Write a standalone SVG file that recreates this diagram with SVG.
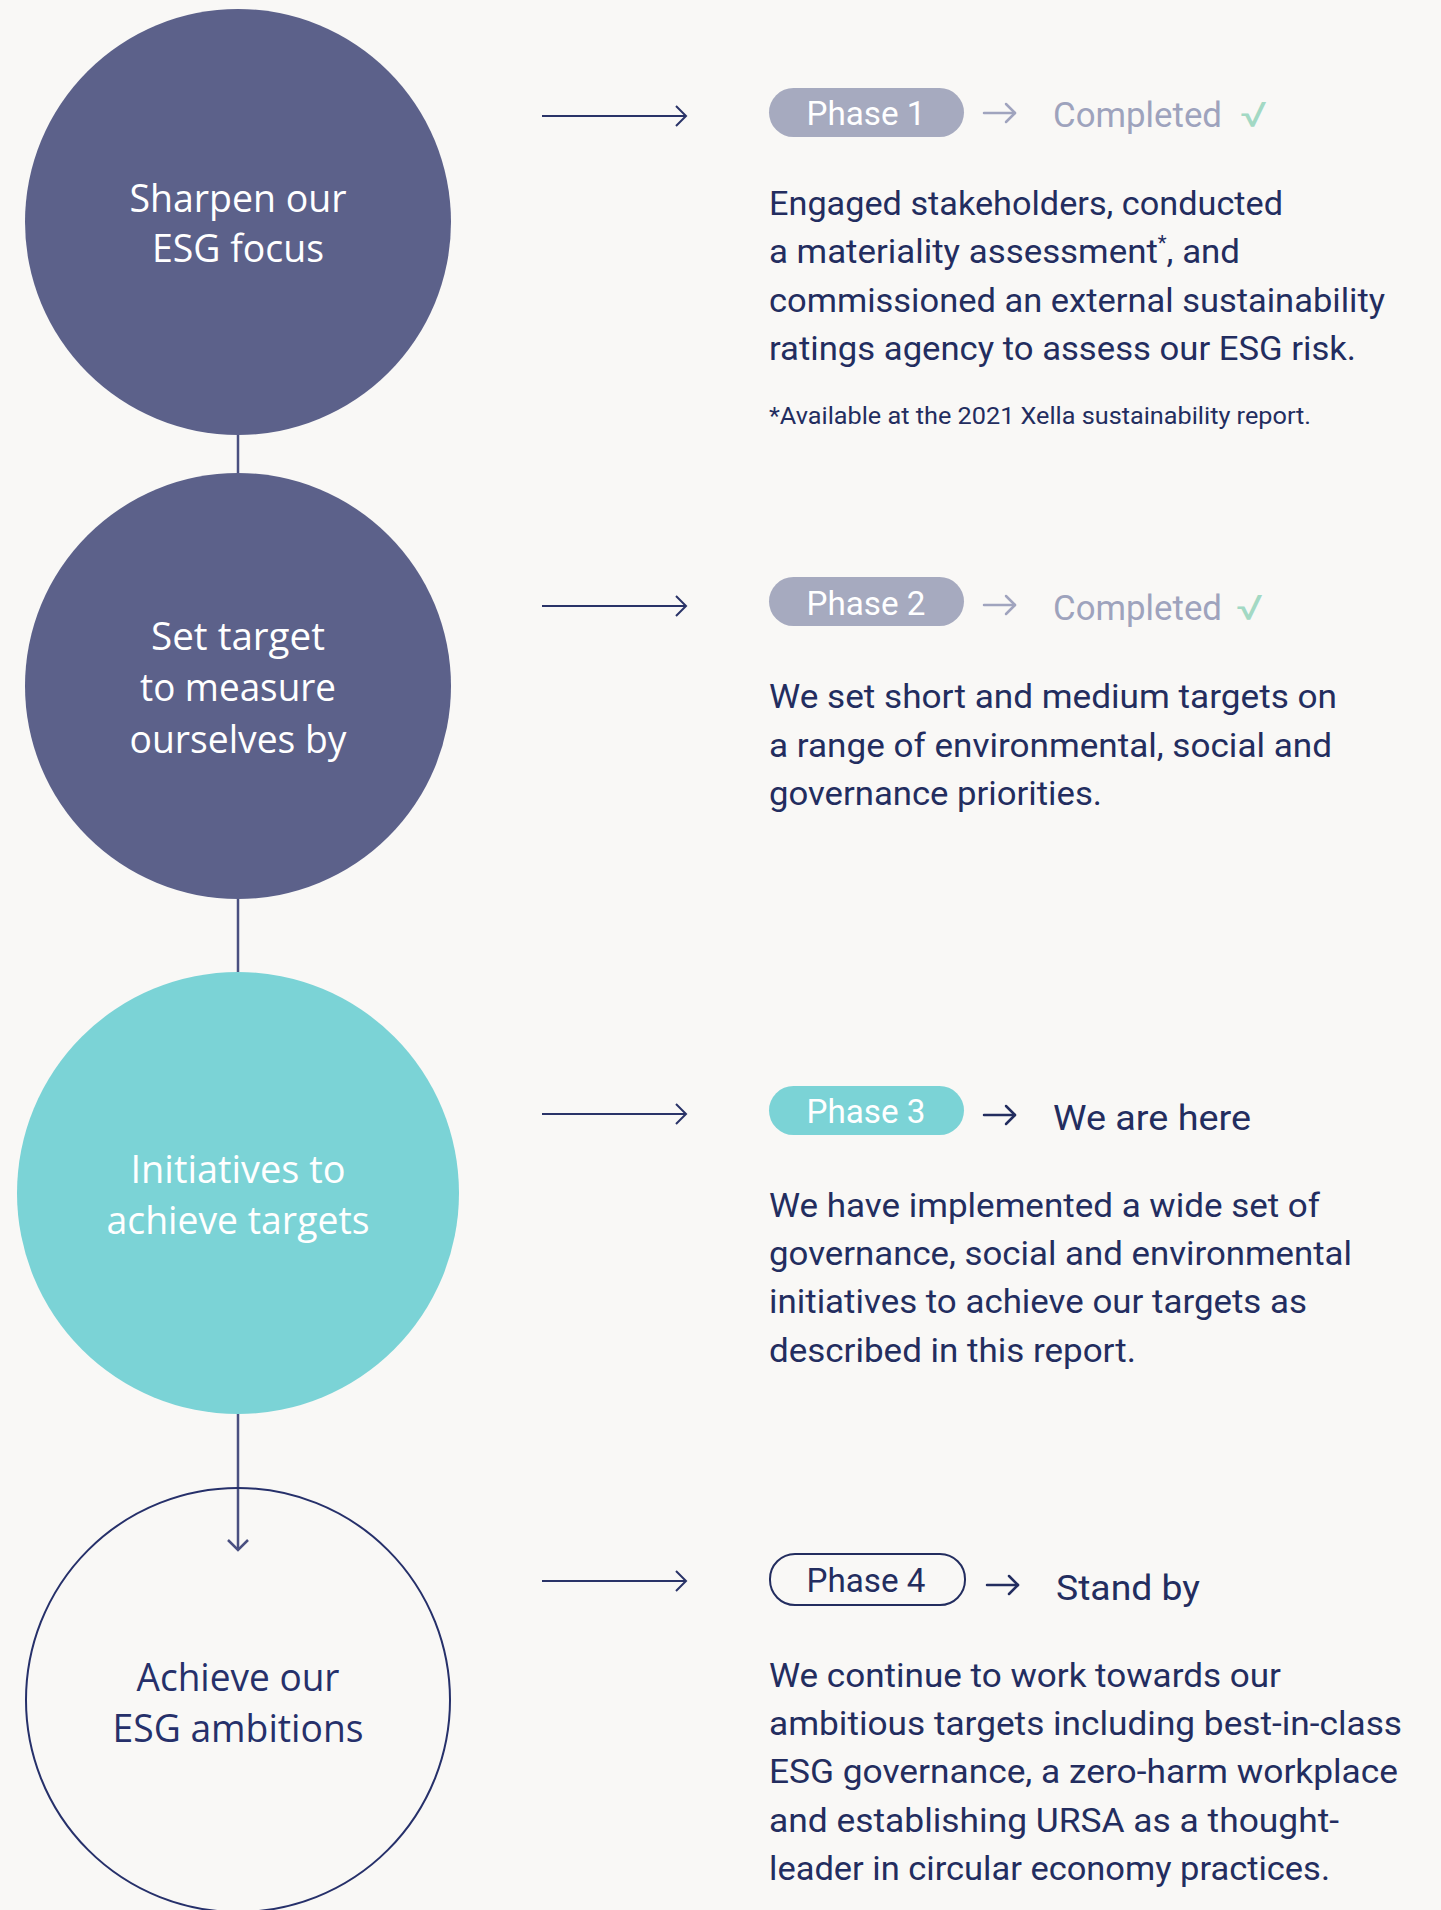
<svg xmlns="http://www.w3.org/2000/svg" width="1441" height="1910" viewBox="0 0 1441 1910">
<style>
.bg{fill:#f9f8f6}
.cl{font-family:"Open Sans","Noto Sans","Liberation Sans",sans-serif;font-size:38px;text-anchor:middle;fill:#ffffff}
.cl.dark{fill:#26306a}
.body{font-family:Roboto,"Liberation Sans",sans-serif;font-size:34px;fill:#232d5f}
.foot{font-family:Roboto,"Liberation Sans",sans-serif;font-size:24px;fill:#232d5f}
.pill{font-family:Roboto,"Liberation Sans",sans-serif;font-size:34px;text-anchor:middle}
.status{font-family:Roboto,"Liberation Sans",sans-serif;font-size:35px}
.conn{stroke:#4a5080;stroke-width:2.5;fill:none}
.harrow{stroke:#2a3468;stroke-width:2;fill:none}
.sarrow{stroke-width:2.5;fill:none;stroke-linecap:round;stroke-linejoin:round}
</style>
<rect class="bg" x="0" y="0" width="1441" height="1910"/>

<g id="connectors">
  <line class="conn" x1="238" y1="435" x2="238" y2="474"/>
  <line class="conn" x1="238" y1="899" x2="238" y2="972"/>
  <line class="conn" x1="238" y1="1414" x2="238" y2="1550"/>
  <polyline class="conn" points="228,1540 238,1550 248,1540"/>
  <g class="harrow">
    <line x1="542" y1="116" x2="686" y2="116"/><polyline points="676,106 686,116 676,126"/>
    <line x1="542" y1="606" x2="686" y2="606"/><polyline points="676,596 686,606 676,616"/>
    <line x1="542" y1="1114" x2="686" y2="1114"/><polyline points="676,1104 686,1114 676,1124"/>
    <line x1="542" y1="1581" x2="686" y2="1581"/><polyline points="676,1571 686,1581 676,1591"/>
  </g>
</g>

<g id="node-sharpen">
  <circle cx="238" cy="222" r="213" fill="#5c618a"/>
  <text class="cl" x="238" y="212" textLength="217" lengthAdjust="spacingAndGlyphs">Sharpen our</text>
  <text class="cl" x="238" y="262" textLength="172" lengthAdjust="spacingAndGlyphs">ESG focus</text>
</g>

<g id="node-set-target">
  <circle cx="238" cy="686" r="213" fill="#5c618a"/>
  <text class="cl" x="238" y="650" textLength="174" lengthAdjust="spacingAndGlyphs">Set target</text>
  <text class="cl" x="238" y="701" textLength="196" lengthAdjust="spacingAndGlyphs">to measure</text>
  <text class="cl" x="238" y="753" textLength="217" lengthAdjust="spacingAndGlyphs">ourselves by</text>
</g>

<g id="node-initiatives">
  <circle cx="238" cy="1193" r="221" fill="#7bd3d6"/>
  <text class="cl" x="238" y="1183" textLength="215" lengthAdjust="spacingAndGlyphs">Initiatives to</text>
  <text class="cl" x="238" y="1234" textLength="263" lengthAdjust="spacingAndGlyphs">achieve targets</text>
</g>

<g id="node-achieve">
  <circle cx="238" cy="1700" r="212" fill="none" stroke="#26306a" stroke-width="2"/>
  <text class="cl dark" x="238" y="1691" textLength="203" lengthAdjust="spacingAndGlyphs">Achieve our</text>
  <text class="cl dark" x="238" y="1742" textLength="251" lengthAdjust="spacingAndGlyphs">ESG ambitions</text>
</g>

<g id="phase-1">
  <rect x="769" y="88" width="195" height="49" rx="24.5" fill="#a6aabf"/>
  <text class="pill" x="866" y="125" fill="#ffffff" textLength="119" lengthAdjust="spacingAndGlyphs">Phase 1</text>
  <g class="sarrow" stroke="#a0a4be"><line x1="984" y1="113" x2="1015" y2="113"/><polyline points="1006,104 1015,113 1006,122"/></g>
  <text class="status" x="1053" y="127" fill="#9ea3bd" textLength="169" lengthAdjust="spacingAndGlyphs">Completed</text>
  <text class="status" x="1240" y="127" fill="#a3d9c4" textLength="27" lengthAdjust="spacingAndGlyphs">√</text>
  <text class="body" x="769" y="215" textLength="514" lengthAdjust="spacingAndGlyphs">Engaged stakeholders, conducted</text>
  <text class="body" x="769" y="263" textLength="471" lengthAdjust="spacingAndGlyphs">a materiality assessment<tspan font-size="20" dy="-13">*</tspan><tspan dy="13">, and</tspan></text>
  <text class="body" x="769" y="312" textLength="616" lengthAdjust="spacingAndGlyphs">commissioned an external sustainability</text>
  <text class="body" x="769" y="360" textLength="587" lengthAdjust="spacingAndGlyphs">ratings agency to assess our ESG risk.</text>
  <text class="foot" x="769" y="424" textLength="542" lengthAdjust="spacingAndGlyphs">*Available at the 2021 Xella sustainability report.</text>
</g>

<g id="phase-2">
  <rect x="769" y="577" width="195" height="49" rx="24.5" fill="#a6aabf"/>
  <text class="pill" x="866" y="615" fill="#ffffff" textLength="119" lengthAdjust="spacingAndGlyphs">Phase 2</text>
  <g class="sarrow" stroke="#a0a4be"><line x1="984" y1="605" x2="1015" y2="605"/><polyline points="1006,596 1015,605 1006,614"/></g>
  <text class="status" x="1053" y="620" fill="#9ea3bd" textLength="169" lengthAdjust="spacingAndGlyphs">Completed</text>
  <text class="status" x="1236" y="620" fill="#a3d9c4" textLength="27" lengthAdjust="spacingAndGlyphs">√</text>
  <text class="body" x="769" y="708" textLength="568" lengthAdjust="spacingAndGlyphs">We set short and medium targets on</text>
  <text class="body" x="769" y="757" textLength="563" lengthAdjust="spacingAndGlyphs">a range of environmental, social and</text>
  <text class="body" x="769" y="805" textLength="333" lengthAdjust="spacingAndGlyphs">governance priorities.</text>
</g>

<g id="phase-3">
  <rect x="769" y="1086" width="195" height="49" rx="24.5" fill="#7bd3d6"/>
  <text class="pill" x="866" y="1123" fill="#ffffff" textLength="119" lengthAdjust="spacingAndGlyphs">Phase 3</text>
  <g class="sarrow" stroke="#232d5f"><line x1="984" y1="1115" x2="1015" y2="1115"/><polyline points="1006,1106 1015,1115 1006,1124"/></g>
  <text class="status" x="1053" y="1130" fill="#232d5f" textLength="198" lengthAdjust="spacingAndGlyphs">We are here</text>
  <text class="body" x="769" y="1217" textLength="551" lengthAdjust="spacingAndGlyphs">We have implemented a wide set of</text>
  <text class="body" x="769" y="1265" textLength="583" lengthAdjust="spacingAndGlyphs">governance, social and environmental</text>
  <text class="body" x="769" y="1313" textLength="538" lengthAdjust="spacingAndGlyphs">initiatives to achieve our targets as</text>
  <text class="body" x="769" y="1362" textLength="367" lengthAdjust="spacingAndGlyphs">described in this report.</text>
</g>

<g id="phase-4">
  <rect x="770" y="1554" width="195" height="51" rx="25" fill="none" stroke="#232d5f" stroke-width="2"/>
  <text class="pill" x="866" y="1592" fill="#232d5f" textLength="119" lengthAdjust="spacingAndGlyphs">Phase 4</text>
  <g class="sarrow" stroke="#232d5f"><line x1="987" y1="1585" x2="1018" y2="1585"/><polyline points="1009,1576 1018,1585 1009,1594"/></g>
  <text class="status" x="1056" y="1600" fill="#232d5f" textLength="144" lengthAdjust="spacingAndGlyphs">Stand by</text>
  <text class="body" x="769" y="1687" textLength="512" lengthAdjust="spacingAndGlyphs">We continue to work towards our</text>
  <text class="body" x="769" y="1735" textLength="633" lengthAdjust="spacingAndGlyphs">ambitious targets including best-in-class</text>
  <text class="body" x="769" y="1783" textLength="629" lengthAdjust="spacingAndGlyphs">ESG governance, a zero-harm workplace</text>
  <text class="body" x="769" y="1832" textLength="570" lengthAdjust="spacingAndGlyphs">and establishing URSA as a thought-</text>
  <text class="body" x="769" y="1880" textLength="561" lengthAdjust="spacingAndGlyphs">leader in circular economy practices.</text>
</g>
</svg>
